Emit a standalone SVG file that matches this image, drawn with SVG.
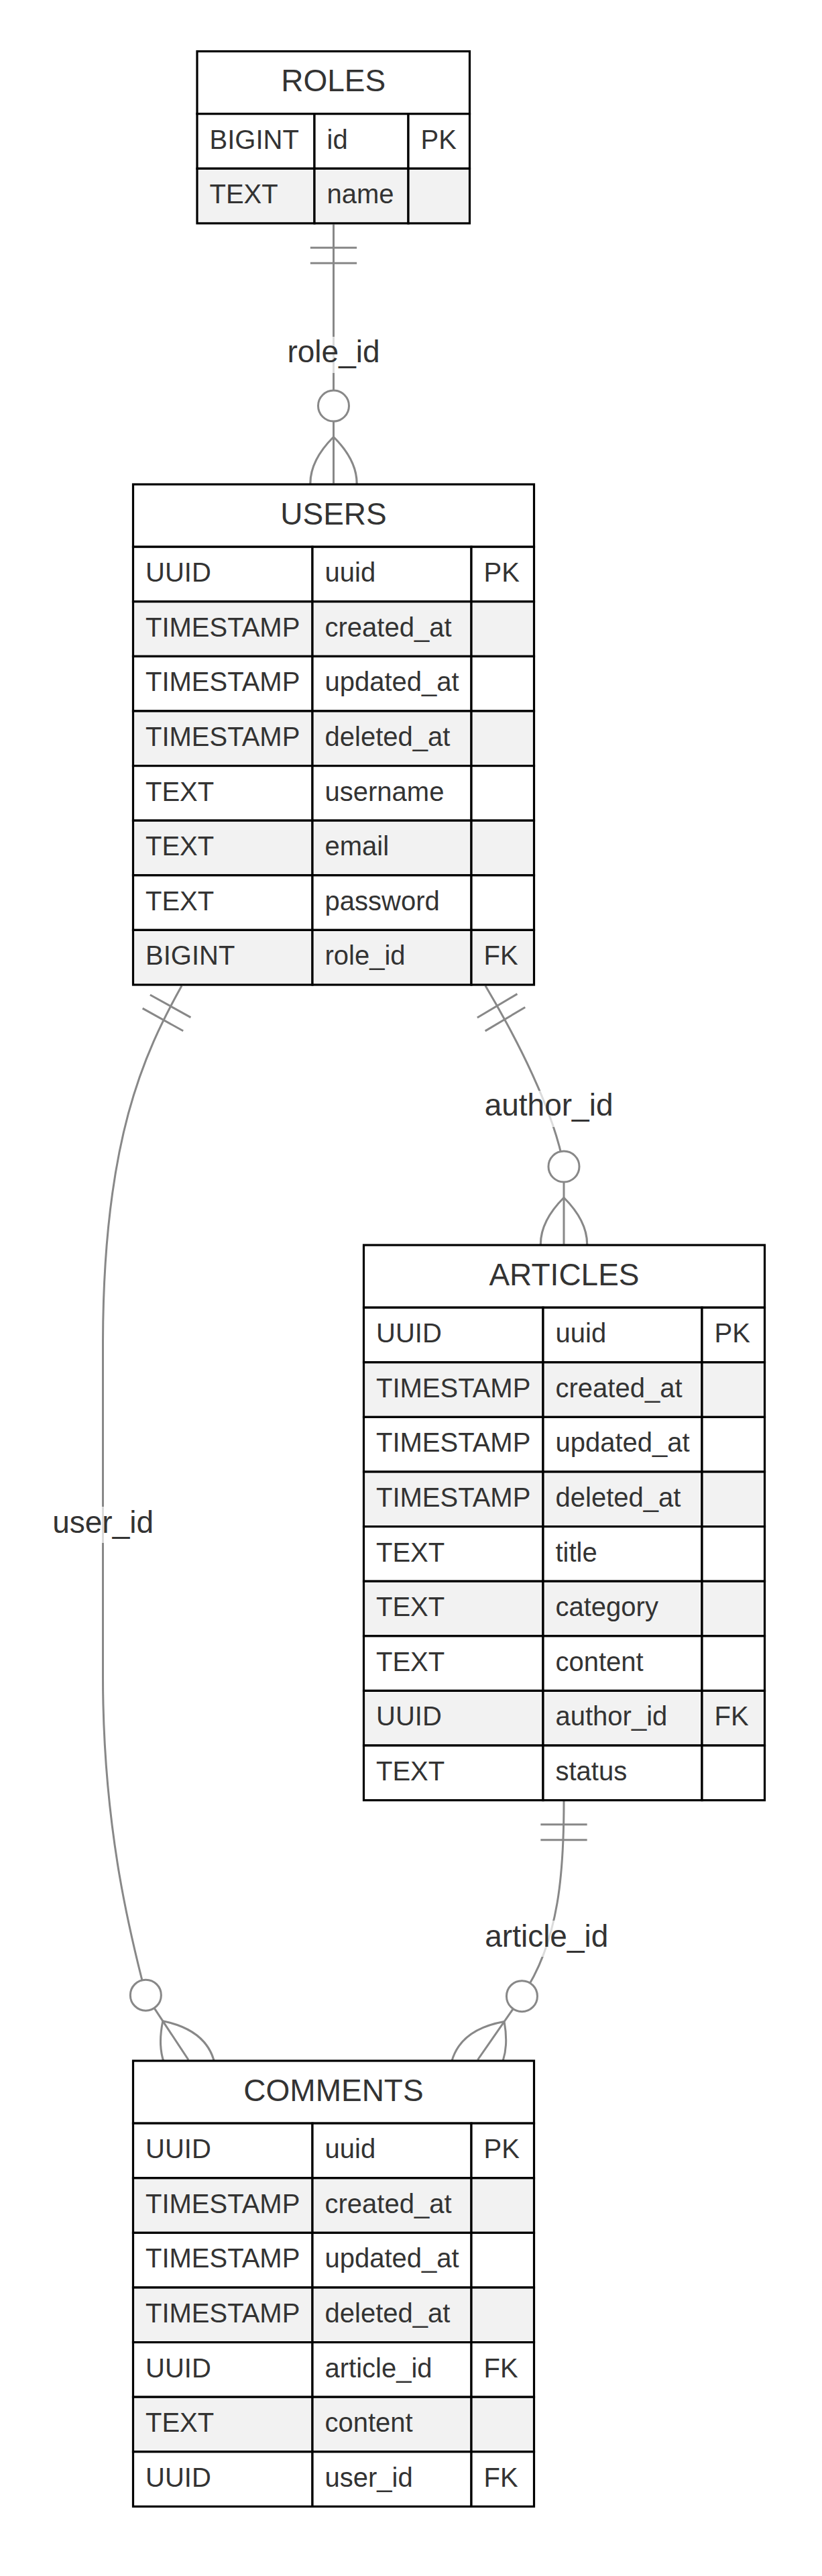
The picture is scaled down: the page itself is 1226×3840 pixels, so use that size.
<svg xmlns="http://www.w3.org/2000/svg" width="1226" height="3840" viewBox="0 0 1226 3840">
<style>
text { font-family: "Liberation Sans", Arial, Helvetica, sans-serif; fill: #333333; }
.h { font-size: 46px; text-anchor: middle; }
.a { font-size: 40px; }
.lt { font-size: 46px; text-anchor: middle; }
.w { fill: #ffffff; stroke: #000000; stroke-width: 3.2; }
.g { fill: #f2f2f2; stroke: #000000; stroke-width: 3.2; }
.c { fill: none; stroke: #888888; stroke-width: 3; }
.ci { fill: #ffffff; stroke: #888888; stroke-width: 3; }
.lbg { fill: #ffffff; opacity: 0.7; }
</style>
<rect x="0" y="0" width="1226" height="3840" fill="#ffffff"/>

<g id="connectors">
  <!-- ROLES -> USERS : role_id -->
  <g id="rel-role_id">
    <path class="c" d="M497.5,334.5 L497.5,720.5"/>
    <path class="c" d="M462.85,369.15 L532.15,369.15 M462.85,392.25 L532.15,392.25"/>
    <circle class="ci" cx="497.5" cy="605" r="23"/>
    <path class="c" d="M497.5,651.2 Q566.8,720.5 497.5,789.8 Q428.2,720.5 497.5,651.2"/>
    <rect class="lbg" x="428.5" y="502" width="138" height="54"/>
    <text class="lt" x="497.5" y="540">role_id</text>
  </g>
  <!-- USERS -> ARTICLES : author_id -->
  <g id="rel-author_id">
    <path class="c" d="M724,1469.5 C770,1547 826,1655 841,1739 L841,1854.5"/>
    <path class="c" d="M771.47,1481.63 L711.87,1516.97 M783.25,1501.5 L723.65,1536.84"/>
    <circle class="ci" cx="841" cy="1739" r="23"/>
    <path class="c" d="M841,1785.2 Q910.3,1854.5 841,1923.8 Q771.7,1854.5 841,1785.2"/>
    <rect class="lbg" x="722.6" y="1626" width="192" height="54"/>
    <text class="lt" x="818.6" y="1663">author_id</text>
  </g>
  <!-- USERS -> COMMENTS : user_id -->
  <g id="rel-user_id">
    <path class="c" d="M271,1469.5 C215,1570 154,1700 153.5,2000 L153.5,2500 C153.5,2750 205,2920 217.36,2974.17 L281,3070.5"/>
    <path class="c" d="M284.44,1516.62 L223.88,1482.94 M273.21,1536.81 L212.65,1503.13"/>
    <circle class="ci" cx="217.36" cy="2974.17" r="23"/>
    <path class="c" d="M242.82,3012.7 Q338.8,3032.32 319.18,3128.3 Q223.2,3108.68 242.82,3012.7"/>
    <rect class="lbg" x="78.1" y="2246" width="151" height="54"/>
    <text class="lt" x="153.6" y="2284.5">user_id</text>
  </g>
  <!-- ARTICLES -> COMMENTS : article_id -->
  <g id="rel-article_id">
    <path class="c" d="M841,2685 C841,2785 835.3,2893 778.45,2975.67 L712.5,3070.5"/>
    <path class="c" d="M806.35,2719.65 L875.65,2719.65 M806.35,2742.75 L875.65,2742.75"/>
    <circle class="ci" cx="778.45" cy="2975.67" r="23"/>
    <path class="c" d="M752.07,3013.6 Q769.4,3110.07 672.93,3127.4 Q655.6,3030.93 752.07,3013.6"/>
    <rect class="lbg" x="723.3" y="2863" width="184" height="54"/>
    <text class="lt" x="815.3" y="2901.7">article_id</text>
  </g>
</g>

<g id="ROLES">
  <rect class="w" x="294" y="76.5" width="406.5" height="93.2"/>
  <text class="h" x="497.25" y="136">ROLES</text>
  <rect class="w" x="294" y="169.7" width="175" height="81.6"/>
  <rect class="w" x="469" y="169.7" width="140" height="81.6"/>
  <rect class="w" x="609" y="169.7" width="91.5" height="81.6"/>
  <text class="a" x="312.5" y="221.7">BIGINT</text>
  <text class="a" x="487.5" y="221.7">id</text>
  <text class="a" x="627.5" y="221.7">PK</text>
  <rect class="g" x="294" y="251.3" width="175" height="81.6"/>
  <rect class="g" x="469" y="251.3" width="140" height="81.6"/>
  <rect class="g" x="609" y="251.3" width="91.5" height="81.6"/>
  <text class="a" x="312.5" y="303.3">TEXT</text>
  <text class="a" x="487.5" y="303.3">name</text>
</g>

<g id="USERS">
  <rect class="w" x="198.5" y="722" width="598" height="93.2"/>
  <text class="h" x="497.5" y="781.5">USERS</text>
  <rect class="w" x="198.5" y="815.2" width="267.5" height="81.6"/>
  <rect class="w" x="466" y="815.2" width="237" height="81.6"/>
  <rect class="w" x="703" y="815.2" width="93.5" height="81.6"/>
  <text class="a" x="217" y="867.2">UUID</text>
  <text class="a" x="484.5" y="867.2">uuid</text>
  <text class="a" x="721.5" y="867.2">PK</text>
  <rect class="g" x="198.5" y="896.8" width="267.5" height="81.6"/>
  <rect class="g" x="466" y="896.8" width="237" height="81.6"/>
  <rect class="g" x="703" y="896.8" width="93.5" height="81.6"/>
  <text class="a" x="217" y="948.8">TIMESTAMP</text>
  <text class="a" x="484.5" y="948.8">created_at</text>
  <rect class="w" x="198.5" y="978.4" width="267.5" height="81.6"/>
  <rect class="w" x="466" y="978.4" width="237" height="81.6"/>
  <rect class="w" x="703" y="978.4" width="93.5" height="81.6"/>
  <text class="a" x="217" y="1030.4">TIMESTAMP</text>
  <text class="a" x="484.5" y="1030.4">updated_at</text>
  <rect class="g" x="198.5" y="1060" width="267.5" height="81.6"/>
  <rect class="g" x="466" y="1060" width="237" height="81.6"/>
  <rect class="g" x="703" y="1060" width="93.5" height="81.6"/>
  <text class="a" x="217" y="1112">TIMESTAMP</text>
  <text class="a" x="484.5" y="1112">deleted_at</text>
  <rect class="w" x="198.5" y="1141.6" width="267.5" height="81.6"/>
  <rect class="w" x="466" y="1141.6" width="237" height="81.6"/>
  <rect class="w" x="703" y="1141.6" width="93.5" height="81.6"/>
  <text class="a" x="217" y="1193.6">TEXT</text>
  <text class="a" x="484.5" y="1193.6">username</text>
  <rect class="g" x="198.5" y="1223.2" width="267.5" height="81.6"/>
  <rect class="g" x="466" y="1223.2" width="237" height="81.6"/>
  <rect class="g" x="703" y="1223.2" width="93.5" height="81.6"/>
  <text class="a" x="217" y="1275.2">TEXT</text>
  <text class="a" x="484.5" y="1275.2">email</text>
  <rect class="w" x="198.5" y="1304.8" width="267.5" height="81.6"/>
  <rect class="w" x="466" y="1304.8" width="237" height="81.6"/>
  <rect class="w" x="703" y="1304.8" width="93.5" height="81.6"/>
  <text class="a" x="217" y="1356.8">TEXT</text>
  <text class="a" x="484.5" y="1356.8">password</text>
  <rect class="g" x="198.5" y="1386.4" width="267.5" height="81.6"/>
  <rect class="g" x="466" y="1386.4" width="237" height="81.6"/>
  <rect class="g" x="703" y="1386.4" width="93.5" height="81.6"/>
  <text class="a" x="217" y="1438.4">BIGINT</text>
  <text class="a" x="484.5" y="1438.4">role_id</text>
  <text class="a" x="721.5" y="1438.4">FK</text>
</g>

<g id="ARTICLES">
  <rect class="w" x="542.5" y="1856" width="598" height="93.2"/>
  <text class="h" x="841.5" y="1915.5">ARTICLES</text>
  <rect class="w" x="542.5" y="1949.2" width="267.5" height="81.6"/>
  <rect class="w" x="810" y="1949.2" width="237" height="81.6"/>
  <rect class="w" x="1047" y="1949.2" width="93.5" height="81.6"/>
  <text class="a" x="561" y="2001.2">UUID</text>
  <text class="a" x="828.5" y="2001.2">uuid</text>
  <text class="a" x="1065.5" y="2001.2">PK</text>
  <rect class="g" x="542.5" y="2030.8" width="267.5" height="81.6"/>
  <rect class="g" x="810" y="2030.8" width="237" height="81.6"/>
  <rect class="g" x="1047" y="2030.8" width="93.5" height="81.6"/>
  <text class="a" x="561" y="2082.8">TIMESTAMP</text>
  <text class="a" x="828.5" y="2082.8">created_at</text>
  <rect class="w" x="542.5" y="2112.4" width="267.5" height="81.6"/>
  <rect class="w" x="810" y="2112.4" width="237" height="81.6"/>
  <rect class="w" x="1047" y="2112.4" width="93.5" height="81.6"/>
  <text class="a" x="561" y="2164.4">TIMESTAMP</text>
  <text class="a" x="828.5" y="2164.4">updated_at</text>
  <rect class="g" x="542.5" y="2194" width="267.5" height="81.6"/>
  <rect class="g" x="810" y="2194" width="237" height="81.6"/>
  <rect class="g" x="1047" y="2194" width="93.5" height="81.6"/>
  <text class="a" x="561" y="2246">TIMESTAMP</text>
  <text class="a" x="828.5" y="2246">deleted_at</text>
  <rect class="w" x="542.5" y="2275.6" width="267.5" height="81.6"/>
  <rect class="w" x="810" y="2275.6" width="237" height="81.6"/>
  <rect class="w" x="1047" y="2275.6" width="93.5" height="81.6"/>
  <text class="a" x="561" y="2327.6">TEXT</text>
  <text class="a" x="828.5" y="2327.6">title</text>
  <rect class="g" x="542.5" y="2357.2" width="267.5" height="81.6"/>
  <rect class="g" x="810" y="2357.2" width="237" height="81.6"/>
  <rect class="g" x="1047" y="2357.2" width="93.5" height="81.6"/>
  <text class="a" x="561" y="2409.2">TEXT</text>
  <text class="a" x="828.5" y="2409.2">category</text>
  <rect class="w" x="542.5" y="2438.8" width="267.5" height="81.6"/>
  <rect class="w" x="810" y="2438.8" width="237" height="81.6"/>
  <rect class="w" x="1047" y="2438.8" width="93.5" height="81.6"/>
  <text class="a" x="561" y="2490.8">TEXT</text>
  <text class="a" x="828.5" y="2490.8">content</text>
  <rect class="g" x="542.5" y="2520.4" width="267.5" height="81.6"/>
  <rect class="g" x="810" y="2520.4" width="237" height="81.6"/>
  <rect class="g" x="1047" y="2520.4" width="93.5" height="81.6"/>
  <text class="a" x="561" y="2572.4">UUID</text>
  <text class="a" x="828.5" y="2572.4">author_id</text>
  <text class="a" x="1065.5" y="2572.4">FK</text>
  <rect class="w" x="542.5" y="2602" width="267.5" height="81.6"/>
  <rect class="w" x="810" y="2602" width="237" height="81.6"/>
  <rect class="w" x="1047" y="2602" width="93.5" height="81.6"/>
  <text class="a" x="561" y="2654">TEXT</text>
  <text class="a" x="828.5" y="2654">status</text>
</g>

<g id="COMMENTS">
  <rect class="w" x="198.5" y="3072" width="598" height="93.2"/>
  <text class="h" x="497.5" y="3131.5">COMMENTS</text>
  <rect class="w" x="198.5" y="3165.2" width="267.5" height="81.6"/>
  <rect class="w" x="466" y="3165.2" width="237" height="81.6"/>
  <rect class="w" x="703" y="3165.2" width="93.5" height="81.6"/>
  <text class="a" x="217" y="3217.2">UUID</text>
  <text class="a" x="484.5" y="3217.2">uuid</text>
  <text class="a" x="721.5" y="3217.2">PK</text>
  <rect class="g" x="198.5" y="3246.8" width="267.5" height="81.6"/>
  <rect class="g" x="466" y="3246.8" width="237" height="81.6"/>
  <rect class="g" x="703" y="3246.8" width="93.5" height="81.6"/>
  <text class="a" x="217" y="3298.8">TIMESTAMP</text>
  <text class="a" x="484.5" y="3298.8">created_at</text>
  <rect class="w" x="198.5" y="3328.4" width="267.5" height="81.6"/>
  <rect class="w" x="466" y="3328.4" width="237" height="81.6"/>
  <rect class="w" x="703" y="3328.4" width="93.5" height="81.6"/>
  <text class="a" x="217" y="3380.4">TIMESTAMP</text>
  <text class="a" x="484.5" y="3380.4">updated_at</text>
  <rect class="g" x="198.5" y="3410" width="267.5" height="81.6"/>
  <rect class="g" x="466" y="3410" width="237" height="81.6"/>
  <rect class="g" x="703" y="3410" width="93.5" height="81.6"/>
  <text class="a" x="217" y="3462">TIMESTAMP</text>
  <text class="a" x="484.5" y="3462">deleted_at</text>
  <rect class="w" x="198.5" y="3491.6" width="267.5" height="81.6"/>
  <rect class="w" x="466" y="3491.6" width="237" height="81.6"/>
  <rect class="w" x="703" y="3491.6" width="93.5" height="81.6"/>
  <text class="a" x="217" y="3543.6">UUID</text>
  <text class="a" x="484.5" y="3543.6">article_id</text>
  <text class="a" x="721.5" y="3543.6">FK</text>
  <rect class="g" x="198.5" y="3573.2" width="267.5" height="81.6"/>
  <rect class="g" x="466" y="3573.2" width="237" height="81.6"/>
  <rect class="g" x="703" y="3573.2" width="93.5" height="81.6"/>
  <text class="a" x="217" y="3625.2">TEXT</text>
  <text class="a" x="484.5" y="3625.2">content</text>
  <rect class="w" x="198.5" y="3654.8" width="267.5" height="81.6"/>
  <rect class="w" x="466" y="3654.8" width="237" height="81.6"/>
  <rect class="w" x="703" y="3654.8" width="93.5" height="81.6"/>
  <text class="a" x="217" y="3706.8">UUID</text>
  <text class="a" x="484.5" y="3706.8">user_id</text>
  <text class="a" x="721.5" y="3706.8">FK</text>
</g>
</svg>
